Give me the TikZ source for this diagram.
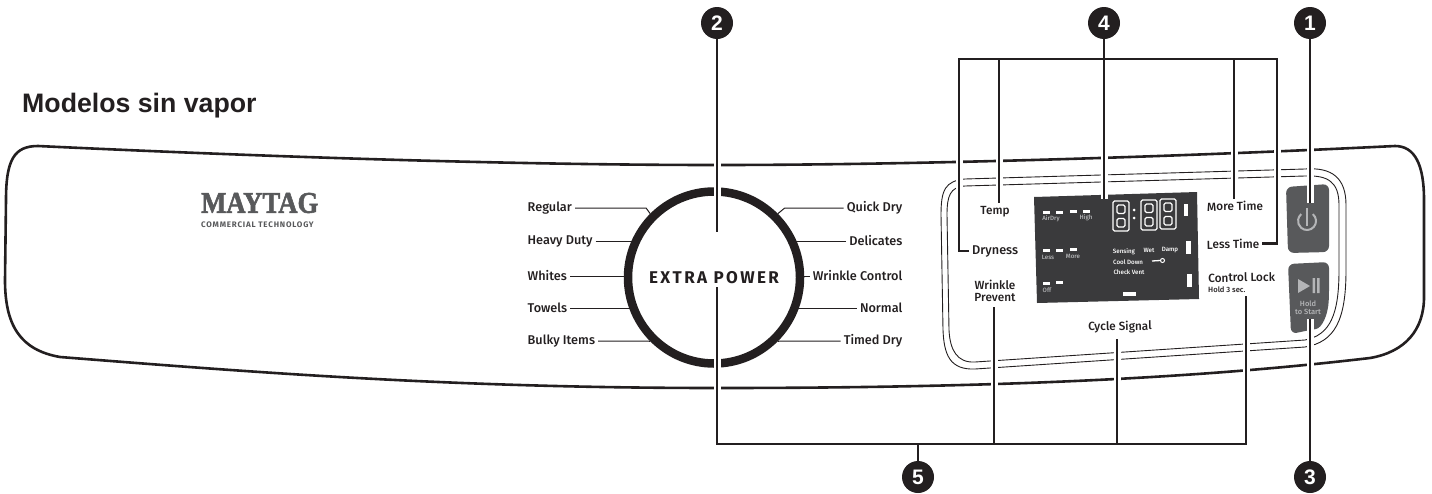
\documentclass[tikz,border=0pt]{standalone}
\usepackage{fontspec}
\usepackage{xcolor}
\setmainfont{Fira Sans Medium}
\newfontfamily\titlefont{Liberation Sans}
\newfontfamily\logofont[BoldFeatures={FakeBold=2}]{Liberation Serif}
\newfontfamily\powerfont[LetterSpace=14]{Fira Sans}
\newfontfamily\techfont[LetterSpace=10]{Fira Sans}
\usetikzlibrary{positioning}
\definecolor{ink}{HTML}{231F20}
\definecolor{btn}{HTML}{58595B}
\definecolor{lcd}{HTML}{3A3A3C}
\definecolor{lcdgrey}{HTML}{B4B5B7}
\tikzset{leader/.style = {draw=ink, line width=2.1, preaction={draw=white, line width=7}}}
\tikzset{badge/.style = {circle, fill=ink, text=white, inner sep=0, minimum size=32,
                         font=\titlefont\bfseries\fontsize{21}{21}\selectfont}}
\tikzset{lbl/.style = {text=ink, inner sep=3, font=\fontsize{12.7}{15}\selectfont}}
\tikzset{plbl/.style = {lbl, font=\fontsize{11.8}{14}\selectfont}}
\tikzset{tick/.style = {draw=ink, line width=1}}
\tikzset{rim/.style = {draw=ink, line width=0.9}}
\tikzset{seg/.style = {draw=white, line width=1.3, rounded corners=1.5}}
\tikzset{lcdtext/.style = {inner sep=0, text=white, font=\fontsize{6.2}{7}\selectfont}}
\begin{document}
\begin{tikzpicture}[x=1pt, y=-1pt]
      \useasboundingbox (0,0) rectangle (1432,493);
      \node[anchor=west, inner sep=0, text=ink, font=\titlefont\bfseries\fontsize{26.7}{27}\selectfont] (title) at (22,105.5) {Modelos sin vapor};
      \draw[draw=ink, line width=2.6] (6,200) .. controls (6,160) and (14,146) .. (38,146)
          .. controls (250,156) and (500,165) .. (717,165)
          .. controls (900,165) and (1150,158) .. (1395,146)
          .. controls (1415,146) and (1424,165) .. (1424,200) -- (1424,297)
          .. controls (1424,330) and (1405,352) .. (1370,358)
          .. controls (1200,378) and (1000,388) .. (717,388)
          .. controls (450,388) and (250,372) .. (60,357)
          .. controls (20,350) and (5,325) .. (5,280) -- cycle;
      \draw[rim] (941,215) .. controls (941,190) and (945,181) .. (965,179) -- (1305,169)
          .. controls (1332,167) and (1346,178) .. (1346,205) -- (1346,270)
          .. controls (1346,320) and (1335,342) .. (1305,347) -- (975,369)
          .. controls (950,370) and (944,355) .. (943,330) -- cycle;
      \draw[rim] (947,215) .. controls (947,196) and (950,187) .. (965,186) -- (1305,176)
          .. controls (1328,175) and (1339,182) .. (1339,205) -- (1339,270)
          .. controls (1339,315) and (1330,335) .. (1305,340) -- (975,362)
          .. controls (957,363) and (950,350) .. (949,330) -- cycle;
      \node[anchor=west, inner sep=0, text=btn, xscale=0.89, font=\logofont\bfseries\fontsize{30}{30}\selectfont] (logo) at (201,203) {MAYTAG};
      \node[anchor=west, inner sep=0, text=btn, font=\techfont\bfseries\fontsize{8}{8}\selectfont] (tech) at (201,225) {COMMERCIAL TECHNOLOGY};
      \node[circle, draw=ink, line width=8.5, minimum size=172, inner sep=0, text=ink, font=\powerfont\bfseries\fontsize{17}{17}\selectfont] (ring) at (714,277.5) {EXTRA POWER};
      \foreach \name/\txt/\y in {Regular/Regular/208, Heavy/Heavy Duty/241, Whites/Whites/276, Towels/Towels/308, Bulky/Bulky Items/341}
        \node[lbl, anchor=west] (lbl\name) at (524.5,\y) {\txt};
      \foreach \name/\txt/\y in {Quick/Quick Dry/208, Delicates/Delicates/241, Wrinkle/Wrinkle Control/276, Normal/Normal/308, Timed/Timed Dry/341}
        \node[lbl, anchor=east] (lbl\name) at (905.5,\y) {\txt};
      \draw[tick] (lblRegular.east) -- ++(71,0) -- (ring.135);
      \draw[tick] (lblHeavy.east) -- (lblHeavy.east -| ring.155);
      \draw[tick] (lblWhites.east) -- (lblWhites.east -| ring.west);
      \draw[tick] (lblTowels.east) -- (lblTowels.east -| ring.205);
      \draw[tick] (lblBulky.east) -- ++(47,0) -- (ring.225);
      \draw[tick] (lblQuick.west) -- ++(-59,0) -- (ring.45);
      \draw[tick] (lblDelicates.west) -- (lblDelicates.west -| ring.25);
      \draw[tick] (lblWrinkle.west) -- (lblWrinkle.west -| ring.east);
      \draw[tick] (lblNormal.west) -- (lblNormal.west -| ring.335);
      \draw[tick] (lblTimed.west) -- ++(-58,0) -- (ring.315);
      \fill[lcd] (1034,197) -- (1197,192) -- (1199,299) -- (1037,303) -- cycle;
      \foreach \x/\y in {1046/212, 1059/212, 1073/211, 1086/211, 1046/250, 1059/250, 1073/249, 1046/283, 1059/282}
        \fill[white] (\x-3.5,\y-1.5) rectangle (\x+3.5,\y+1.5);
      \fill[white] (1184,204) rectangle (1188,216);
      \fill[white] (1186,241) rectangle (1191,254);
      \fill[white] (1187,274) rectangle (1192,287);
      \fill[white] (1123,292) rectangle (1136,296);
      \foreach \x/\y in {1121/216, 1149/215, 1168/214} {
        \draw[seg] (\x-8,\y-15) rectangle (\x+8,\y+15);
        \draw[seg] (\x-4,\y-11) rectangle (\x+4,\y-2.5);
        \draw[seg] (\x-4,\y+2.5) rectangle (\x+4,\y+11);
      }
      \fill[white] (1134,210) circle (1.5) (1134,218) circle (1.5);
      \foreach \x/\y/\txt in {1051/219/AirDry, 1086/218/High, 1048/257/Less, 1073/256/More, 1047/290/Off}
        \node[lcdtext, text=lcdgrey] at (\x,\y) {\txt};
      \foreach \x/\y/\txt in {1124/252/Sensing, 1149/250/Wet, 1170/250/Damp, 1128/262/Cool Down, 1129/272/Check Vent}
        \node[lcdtext] at (\x,\y) {\txt};
      \draw[white, line width=1.3] (1152,261) -- (1160,260.5);
      \draw[white, line width=1] (1162.5,260.5) circle (2);
      \fill[btn, rounded corners=6] (1286,187) -- (1329,184) -- (1329,252) -- (1288,253) -- cycle;
      \fill[btn, rounded corners=6] (1288,264) -- (1329,262) -- (1329,295)
          .. controls (1328,315) and (1322,328) .. (1310,330) -- (1291,334) -- cycle;
      \draw[lcdgrey, line width=2] (1312.8,214.1) arc (-50:230:9);
      \draw[lcdgrey, line width=2] (1307,208) -- (1307,226);
      \fill[lcdgrey] (1298,279) -- (1310,286) -- (1298,293) -- cycle;
      \fill[lcdgrey] (1312.5,278) rectangle (1315,293) (1317,278) rectangle (1319.5,293);
      \node[inner sep=0, text=lcdgrey, align=center, font=\fontsize{7.5}{8}\selectfont] (hold) at (1308,308) {Hold\\to Start};
      \node[plbl] (lblTemp) at (995,212) {Temp};
      \node[lbl, anchor=west] (lblDryness) at (969,251) {Dryness};
      \node[lbl, align=center, font=\fontsize{11.8}{12}\selectfont] (lblPrevent) at (995,291) {Wrinkle\\Prevent};
      \node[plbl, rotate=1] (lblMore) at (1235,206) {More Time};
      \node[plbl, rotate=1] (lblLess) at (1233,244) {Less Time};
      \node[plbl, rotate=1] (lblCycle) at (1120,327) {Cycle Signal};
      \node[plbl, anchor=west, rotate=1] (lblLock) at (1205,278) {Control Lock};
      \node[lbl, anchor=west, font=\fontsize{7.6}{9}\selectfont] (lblHold) at (1205,290) {Hold 3 sec.};
      \coordinate (topL) at (959,59);
      \coordinate (topTemp) at (999,59);
      \coordinate (topMore) at (1234,59);
      \coordinate (topR) at (1277,59);
      \coordinate (botPrevent) at (994,444);
      \coordinate (botCycle) at (1117,444);
      \coordinate (botR) at (1246,444);
      \coordinate (botBadge) at (918,444);
      \coordinate (ringTop) at (717,232);
      \coordinate (ringBot) at (717,287);
      \coordinate (endTemp) at (999,203);
      \coordinate (endMore) at (1234,199);
      \coordinate (endLcd) at (1104,199);
      \coordinate (endPower) at (1310,203);
      \coordinate (endStart) at (1310,319);
      \coordinate (endPrevent) at (994,307);
      \coordinate (endCycle) at (1117,339);
      \coordinate (endLock) at (1246,296);
      \node[badge] (b1) at (1310,23) {1};
      \node[badge] (b2) at (717,23) {2};
      \node[badge] (b3) at (1310,477) {3};
      \node[badge] (b4) at (1104,23) {4};
      \node[badge] (b5) at (918,477) {5};
      \draw[leader] (b2) -- (ringTop);
      \draw[leader] (b1) -- (endPower);
      \draw[leader] (b3) -- (endStart);
      \draw[leader] (lblDryness.west) -| (topL) -- (topR) |- (lblLess.east)
          (topTemp) -- (endTemp) (topMore) -- (endMore) (b4) -- (endLcd);
      \draw[leader] (ringBot) |- (botR) -- (endLock)
          (botPrevent) -- (endPrevent) (botCycle) -- (endCycle) (botBadge) -- (b5);
    \end{tikzpicture}
\end{document}
